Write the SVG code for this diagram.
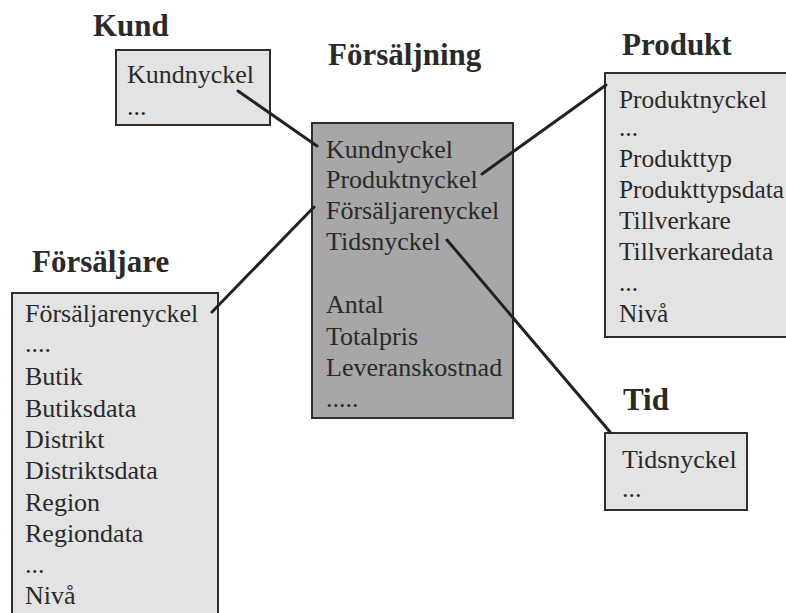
<svg xmlns="http://www.w3.org/2000/svg" width="786" height="613" viewBox="0 0 786 613">
  <style>
    text { font-family: "Liberation Serif", Tinos, "Times New Roman", "DejaVu Serif", serif; fill: #2a2a2a; }
    .title { font-weight: bold; font-size: 31px; }
    .item { font-size: 26px; }
    .narrow { font-size: 25.4px; }
    .dim { fill: #e3e3e3; stroke: #2e2e2e; stroke-width: 2; }
    .fact { fill: #a7a7a7; stroke: #2e2e2e; stroke-width: 2; }
    .link { stroke: #222; stroke-width: 3; fill: none; stroke-linecap: round; }
  </style>
  <rect width="786" height="613" fill="#ffffff"/>

  <!-- Customer dimension -->
  <g id="kund">
    <text class="title" x="93" y="36">Kund</text>
    <rect class="dim" x="116" y="50" width="154" height="75"/>
    <text class="item" x="127" y="83">Kundnyckel</text>
    <text class="item" x="127" y="115">...</text>
  </g>

  <!-- Sales fact table -->
  <g id="forsaljning">
    <text class="title" x="328" y="65">Försäljning</text>
    <rect class="fact" x="312" y="123" width="201" height="295"/>
    <text class="item" x="326" y="158">Kundnyckel</text>
    <text class="item" x="326" y="188">Produktnyckel</text>
    <text class="item" x="326" y="219">Försäljarenyckel</text>
    <text class="item" x="326" y="250">Tidsnyckel</text>
    <text class="item" x="326" y="313">Antal</text>
    <text class="item" x="326" y="345">Totalpris</text>
    <text class="item" x="326" y="376">Leveranskostnad</text>
    <text class="item" x="326" y="407">.....</text>
  </g>

  <!-- Product dimension -->
  <g id="produkt">
    <text class="title" x="622" y="55">Produkt</text>
    <rect class="dim" x="605" y="73" width="200" height="264"/>
    <text class="item narrow" x="619" y="108">Produktnyckel</text>
    <text class="item narrow" x="619" y="136">...</text>
    <text class="item narrow" x="619" y="167">Produkttyp</text>
    <text class="item narrow" x="619" y="198">Produkttypsdata</text>
    <text class="item narrow" x="619" y="229">Tillverkare</text>
    <text class="item narrow" x="619" y="260">Tillverkaredata</text>
    <text class="item narrow" x="619" y="291">...</text>
    <text class="item narrow" x="619" y="322">Nivå</text>
  </g>

  <!-- Seller dimension -->
  <g id="forsaljare">
    <text class="title" x="32" y="272">Försäljare</text>
    <rect class="dim" x="12" y="293" width="206" height="330"/>
    <text class="item" x="25" y="322">Försäljarenyckel</text>
    <text class="item" x="25" y="352">....</text>
    <text class="item" x="25" y="385">Butik</text>
    <text class="item" x="25" y="417">Butiksdata</text>
    <text class="item" x="25" y="448">Distrikt</text>
    <text class="item" x="25" y="479">Distriktsdata</text>
    <text class="item" x="25" y="511">Region</text>
    <text class="item" x="25" y="542">Regiondata</text>
    <text class="item" x="25" y="573">...</text>
    <text class="item" x="25" y="604">Nivå</text>
  </g>

  <!-- Time dimension -->
  <g id="tid">
    <text class="title" x="623" y="410">Tid</text>
    <rect class="dim" x="605" y="433" width="142" height="77"/>
    <text class="item" x="622" y="468">Tidsnyckel</text>
    <text class="item" x="622" y="497">...</text>
  </g>

  <!-- Key links -->
  <g id="connectors">
    <line class="link" x1="238" y1="91" x2="317" y2="146"/>
    <line class="link" x1="482" y1="174" x2="606" y2="85"/>
    <line class="link" x1="212" y1="312" x2="314" y2="207"/>
    <line class="link" x1="447" y1="240" x2="610" y2="432"/>
  </g>
</svg>
